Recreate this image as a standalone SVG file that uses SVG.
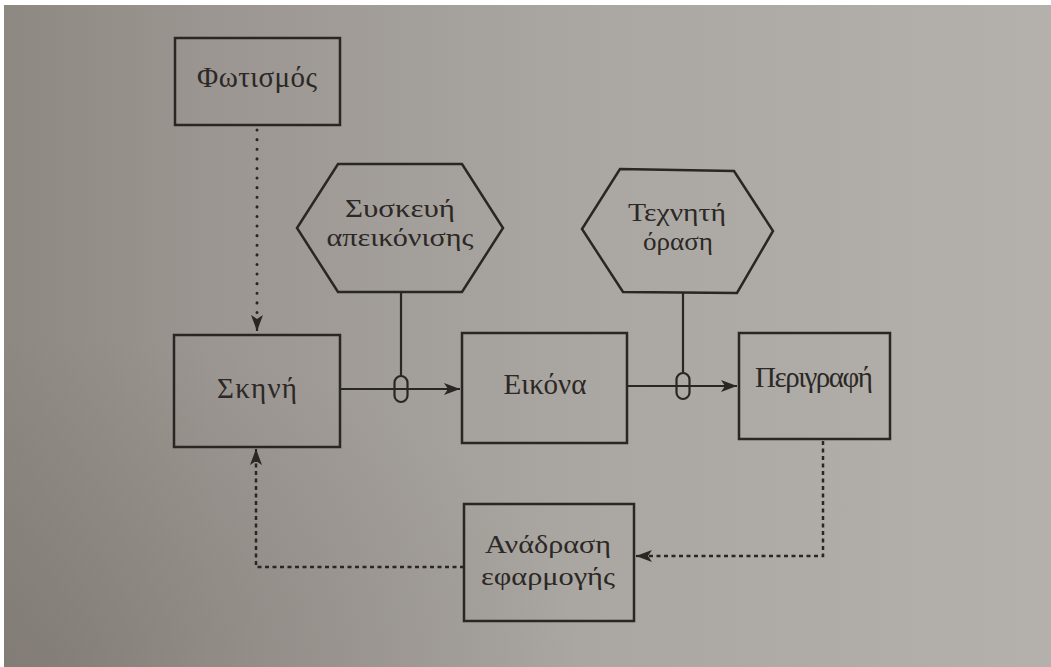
<svg xmlns="http://www.w3.org/2000/svg" width="1051" height="667" viewBox="0 0 1051 667">
  <defs>
    <linearGradient id="bg" x1="0" y1="0" x2="1" y2="0">
      <stop offset="0" stop-color="#8e8882"/>
      <stop offset="0.2" stop-color="#9b9691"/>
      <stop offset="0.55" stop-color="#aaa6a1"/>
      <stop offset="1" stop-color="#b4b1ac"/>
    </linearGradient>
    <radialGradient id="shade" cx="0.05" cy="1" r="0.5">
      <stop offset="0" stop-color="#5e5650" stop-opacity="0.25"/>
      <stop offset="1" stop-color="#5e5650" stop-opacity="0"/>
    </radialGradient>
    <marker id="arr" viewBox="0 0 16 12" refX="16" refY="6" markerWidth="16" markerHeight="12" markerUnits="userSpaceOnUse" orient="auto">
      <path d="M0,0 L16,6 L0,12 L4,6 z" fill="#2a2624"/>
    </marker>
  </defs>
  <style>
    .box { fill: none; stroke: #2a2624; stroke-width: 2.5; }
    .lbl { font-family: "Liberation Serif", "DejaVu Serif", serif; font-size: 29px; fill: #2b2826; text-anchor: middle; }
    .lbl2 { font-family: "Liberation Serif", "DejaVu Serif", serif; font-size: 25px; fill: #2b2826; text-anchor: middle; }
    .solid { fill: none; stroke: #2a2624; stroke-width: 2.2; }
    .dotted { fill: none; stroke: #2a2624; stroke-width: 3; stroke-linecap: round; stroke-dasharray: 0.1 9.5; }
    .dashed { fill: none; stroke: #2a2624; stroke-width: 2.5; stroke-dasharray: 4 3.5; }
    .cap { fill: none; stroke: #2a2624; stroke-width: 2.2; }
  </style>
  <rect x="0" y="0" width="1051" height="667" fill="#ffffff"/>
  <rect x="4" y="5" width="1047" height="662" fill="url(#bg)"/>
  <rect x="4" y="5" width="1047" height="662" fill="url(#shade)"/>

  <g id="connectors">
    <path class="dotted" d="M257,130 V322"/>
    <path class="solid" d="M257,322 V331" marker-end="url(#arr)"/>
    <path class="solid" d="M341,389 H460" marker-end="url(#arr)"/>
    <path class="solid" d="M401,292 V376"/>
    <rect class="cap" x="394.5" y="376" width="13" height="26" rx="6.5"/>
    <path class="solid" d="M628,386 H737" marker-end="url(#arr)"/>
    <path class="solid" d="M683,293 V373"/>
    <rect class="cap" x="676.5" y="373" width="13" height="26" rx="6.5"/>
    <path class="dashed" d="M823,441 V556 H645"/>
    <path class="solid" d="M646,556 H636" marker-end="url(#arr)"/>
    <path class="dashed" d="M464,567 H256 V462"/>
    <path class="solid" d="M256,462 V449" marker-end="url(#arr)"/>
  </g>

  <g id="fotismos">
    <rect class="box" x="175" y="38" width="165" height="87"/>
    <text class="lbl" x="257" y="87" textLength="120">Φωτισμός</text>
  </g>
  <g id="skini">
    <rect class="box" x="174" y="335" width="166" height="112"/>
    <text class="lbl" x="257" y="398" textLength="80">Σκηνή</text>
  </g>
  <g id="eikona">
    <rect class="box" x="462" y="333" width="165" height="110"/>
    <text class="lbl" x="545" y="394" textLength="83">Εικόνα</text>
  </g>
  <g id="perigrafi">
    <rect class="box" x="739" y="333" width="151" height="106"/>
    <text class="lbl" x="814" y="387" textLength="118">Περιγραφή</text>
  </g>
  <g id="syskevi">
    <polygon class="box" points="338,164 462,164 503,228 462,292 338,292 297,228"/>
    <text class="lbl2" x="400" y="217" textLength="110" lengthAdjust="spacingAndGlyphs">Συσκευή</text>
    <text class="lbl2" x="400" y="246" textLength="147" lengthAdjust="spacingAndGlyphs">απεικόνισης</text>
  </g>
  <g id="techniti">
    <polygon class="box" points="620,169 734,171 773,231 737,293 623,292 582,229"/>
    <text class="lbl2" x="677" y="221" textLength="98" lengthAdjust="spacingAndGlyphs">Τεχνητή</text>
    <text class="lbl2" x="678" y="250" textLength="70" lengthAdjust="spacingAndGlyphs">όραση</text>
  </g>
  <g id="anadrasi">
    <rect class="box" x="464" y="504" width="170" height="117"/>
    <text class="lbl2" x="548" y="553" textLength="126" lengthAdjust="spacingAndGlyphs">Ανάδραση</text>
    <text class="lbl2" x="548" y="585" textLength="134" lengthAdjust="spacingAndGlyphs">εφαρμογής</text>
  </g>
</svg>
